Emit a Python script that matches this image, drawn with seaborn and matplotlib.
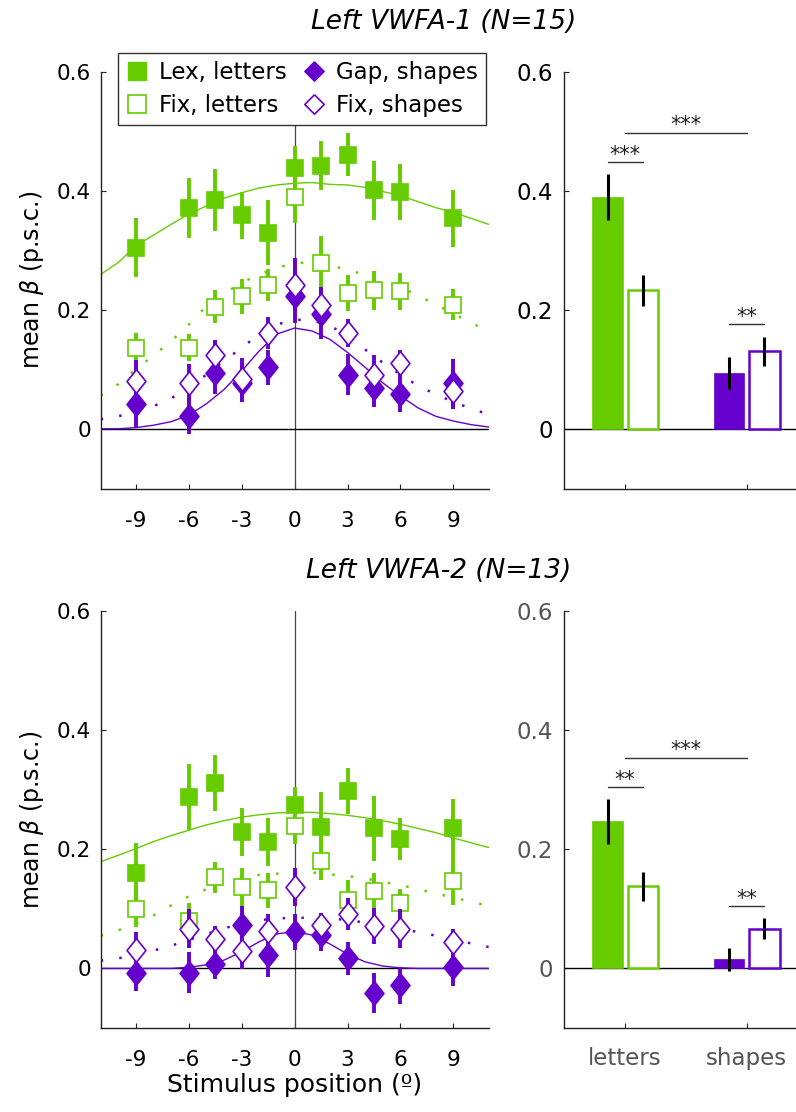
import numpy as np
import pandas as pd
import matplotlib
matplotlib.use('Agg')
import matplotlib.pyplot as plt
from matplotlib.lines import Line2D
import seaborn as sns

sns.set_theme(style='ticks')
plt.rcParams['font.family'] = ['DejaVu Sans']
plt.rcParams['mathtext.fontset'] = 'dejavusans'
plt.rcParams['text.color'] = 'black'
plt.rcParams['axes.labelcolor'] = 'black'

GREEN = '#66CC00'
PURPLE = '#6600CC'

# stimulus positions (deg)
pos = [-9, -6, -4.5, -3, -1.5, 0, 1.5, 3, 4.5, 6, 9]

# ---- Left VWFA-1 (N=15) ----
lex_let_1 = [0.305, 0.371, 0.385, 0.359, 0.330, 0.438, 0.442, 0.461, 0.401, 0.399, 0.354]
lex_let_1_err = [0.050, 0.050, 0.052, 0.040, 0.055, 0.038, 0.041, 0.036, 0.050, 0.047, 0.048]
fix_let_1 = [0.137, 0.137, 0.206, 0.223, 0.242, 0.389, 0.279, 0.229, 0.233, 0.232, 0.209]
fix_let_1_err = [0.025, 0.023, 0.028, 0.029, 0.027, 0.042, 0.045, 0.030, 0.033, 0.031, 0.026]
gap_shp_1 = [0.043, 0.022, 0.095, 0.078, 0.104, 0.224, 0.193, 0.092, 0.070, 0.060, 0.078]
gap_shp_1_err = [0.039, 0.030, 0.035, 0.032, 0.030, 0.045, 0.042, 0.034, 0.033, 0.030, 0.040]
fix_shp_1 = [0.081, 0.077, 0.125, 0.084, 0.162, 0.242, 0.208, 0.162, 0.092, 0.112, 0.064]
fix_shp_1_err = [0.035, 0.033, 0.025, 0.035, 0.027, 0.045, 0.031, 0.024, 0.033, 0.022, 0.030]

# ---- Left VWFA-2 (N=13) ----
lex_let_2 = [0.160, 0.288, 0.312, 0.229, 0.212, 0.274, 0.237, 0.298, 0.235, 0.217, 0.235]
lex_let_2_err = [0.050, 0.055, 0.047, 0.041, 0.040, 0.030, 0.060, 0.039, 0.054, 0.035, 0.050]
fix_let_2 = [0.099, 0.079, 0.153, 0.136, 0.131, 0.239, 0.181, 0.115, 0.130, 0.109, 0.147]
fix_let_2_err = [0.030, 0.030, 0.026, 0.033, 0.029, 0.030, 0.032, 0.034, 0.030, 0.025, 0.040]
gap_shp_2 = [-0.008, -0.007, 0.008, 0.073, 0.022, 0.061, 0.056, 0.017, -0.041, -0.028, 0.002]
gap_shp_2_err = [0.030, 0.035, 0.025, 0.031, 0.036, 0.030, 0.027, 0.028, 0.033, 0.031, 0.032]
fix_shp_2 = [0.031, 0.067, 0.050, 0.030, 0.063, 0.137, 0.073, 0.091, 0.071, 0.067, 0.045]
fix_shp_2_err = [0.030, 0.033, 0.022, 0.031, 0.028, 0.032, 0.020, 0.027, 0.030, 0.032, 0.021]

curve_x = list(range(-11, 12))
fit_lex_1 = [0.260, 0.280, 0.308, 0.326, 0.344, 0.361, 0.375, 0.388, 0.397, 0.405, 0.410, 0.413,
             0.414, 0.411, 0.410, 0.406, 0.399, 0.392, 0.382, 0.372, 0.364, 0.354, 0.344]
fit_fixlet_1 = [0.057, 0.076, 0.101, 0.124, 0.148, 0.176, 0.207, 0.228, 0.246, 0.260, 0.271, 0.279,
                0.280, 0.275, 0.268, 0.259, 0.249, 0.239, 0.224, 0.210, 0.194, 0.179, 0.165]
fit_gap_1 = [0.001, 0.001, 0.003, 0.007, 0.013, 0.024, 0.043, 0.067, 0.098, 0.132, 0.160, 0.170,
             0.165, 0.151, 0.129, 0.104, 0.078, 0.056, 0.036, 0.022, 0.014, 0.008, 0.004]
fit_fixshp_1 = [0.017, 0.022, 0.030, 0.039, 0.052, 0.070, 0.092, 0.115, 0.137, 0.160, 0.176, 0.184,
                0.183, 0.174, 0.157, 0.134, 0.112, 0.092, 0.073, 0.059, 0.046, 0.035, 0.025]
fit_lex_2 = [0.179, 0.190, 0.201, 0.213, 0.223, 0.232, 0.241, 0.248, 0.254, 0.258, 0.261, 0.262,
             0.262, 0.260, 0.257, 0.253, 0.248, 0.242, 0.235, 0.228, 0.219, 0.211, 0.203]
fit_fixlet_2 = [0.055, 0.064, 0.075, 0.089, 0.106, 0.121, 0.133, 0.144, 0.151, 0.157, 0.159, 0.161,
                0.161, 0.158, 0.155, 0.151, 0.145, 0.140, 0.133, 0.126, 0.119, 0.112, 0.105]
fit_gap_2 = [0.0, 0.0, 0.0, 0.0, 0.0, 0.002, 0.006, 0.014, 0.028, 0.045, 0.058, 0.062,
             0.056, 0.041, 0.024, 0.011, 0.004, 0.001, 0.0, 0.0, 0.0, 0.0, 0.0]
fit_fixshp_2 = [0.013, 0.017, 0.022, 0.030, 0.038, 0.048, 0.058, 0.067, 0.076, 0.081, 0.084, 0.085,
                0.085, 0.084, 0.081, 0.077, 0.073, 0.067, 0.061, 0.055, 0.049, 0.042, 0.036]

# bar panels: Lex letters, Fix letters, Gap shapes, Fix shapes
bar_groups = ['letters', 'shapes']
bar_1 = [0.390, 0.233, 0.095, 0.131]
bar_1_err = [0.039, 0.026, 0.027, 0.024]
bar_2 = [0.247, 0.138, 0.015, 0.067]
bar_2_err = [0.038, 0.024, 0.019, 0.017]
# significance: (y of line, label) for letters, between groups, shapes
sig_1 = {'letters': (0.448, '***'), 'between': (0.498, '***'), 'shapes': (0.176, '**')}
sig_2 = {'letters': (0.304, '**'), 'between': (0.354, '***'), 'shapes': (0.105, '**')}

W, H = 796, 1112
fig = plt.figure(figsize=(W / 100, H / 100), dpi=100)

diamond = [(0, 1), (0.8, 0), (0, -1), (-0.8, 0), (0, 1)]
diamond_leg = [(0, 1), (1, 0), (0, -1), (-1, 0), (0, 1)]


def ax_box(left, top, right, bottom):
    return [left / W, 1 - bottom / H, (right - left) / W, (bottom - top) / H]


def style_axis(ax, fs, color='black', pad_y=7, pad_x=16):
    sns.despine(ax=ax)
    for s in ['left', 'bottom']:
        ax.spines[s].set_color('#222')
        ax.spines[s].set_linewidth(1.0)
    ax.tick_params(axis='both', direction='in', length=3.5, width=0.8, colors='#222',
                   labelsize=fs, labelcolor=color)
    ax.tick_params(axis='y', pad=pad_y)
    ax.tick_params(axis='x', pad=pad_x)


def series(ax, vals, err, marker, ms, color, hollow, z):
    ax.errorbar(pos, vals, yerr=err, fmt='none', ecolor=color, elinewidth=2.8,
                capsize=0, zorder=z)
    ax.plot(pos, vals, linestyle='none', marker=marker, ms=ms,
            mfc='white' if hollow else color, mec=color, mew=1.2, zorder=z + 0.5)


def position_panel(ax, d, fits, xlabels):
    ax.axvline(0, color='#444', lw=0.9, zorder=1)
    ax.axhline(0, color='black', lw=1.0, zorder=1)
    dotted = (0, (1.0, 6.5))
    sns.lineplot(x=curve_x, y=fits[0], ax=ax, color=GREEN, lw=1.0, zorder=2)
    sns.lineplot(x=curve_x, y=fits[1], ax=ax, color=GREEN, lw=1.8, linestyle=dotted, zorder=2)
    sns.lineplot(x=curve_x, y=fits[2], ax=ax, color=PURPLE, lw=1.0, zorder=2)
    sns.lineplot(x=curve_x, y=fits[3], ax=ax, color=PURPLE, lw=1.8, linestyle=dotted, zorder=2)
    series(ax, d[0], d[1], 's', 11.5, GREEN, False, 3)
    series(ax, d[2], d[3], 's', 11.5, GREEN, True, 4)
    series(ax, d[4], d[5], diamond, 17, PURPLE, False, 5)
    series(ax, d[6], d[7], diamond, 17, PURPLE, True, 6)
    ax.set_xlim(-11, 11)
    ax.set_ylim(-0.1, 0.6)
    ax.set_xticks([-9, -6, -3, 0, 3, 6, 9])
    ax.set_xticklabels(['-9', '-6', '-3', '0', '3', '6', '9'])
    ax.set_yticks([0, 0.2, 0.4, 0.6])
    ax.set_yticklabels(['0', '0.2', '0.4', '0.6'])
    ax.set_ylabel(r'mean $\beta$ (p.s.c.)', fontsize=17, labelpad=8)
    ax.set_xlabel('')
    style_axis(ax, 15.5)
    if xlabels:
        ax.set_xlabel('Stimulus position (\u00ba)', fontsize=18, labelpad=2)


def bar_panel(ax, vals, err, sig, show_x, label_color):
    off = 0.145
    xs = [1 - off, 1 + off, 2 - off, 2 + off]
    faces = [GREEN, 'white', PURPLE, 'white']
    edges = [GREEN, GREEN, PURPLE, PURPLE]
    lws = [0.5, 1.8, 0.5, 1.8]
    ax.axhline(0, color='black', lw=1.0, zorder=1)
    ax.bar(xs, vals, width=0.25, color=faces, edgecolor=edges, linewidth=lws, zorder=2)
    ax.errorbar(xs, vals, yerr=err, fmt='none', ecolor='black', elinewidth=2.2,
                capsize=0, zorder=3)
    spans = {'letters': (xs[0], xs[1]), 'between': (1, 2), 'shapes': (xs[2], xs[3])}
    for key, (yv, lab) in sig.items():
        x0, x1 = spans[key]
        ax.plot([x0, x1], [yv, yv], color='#333', lw=1.0, zorder=3)
        ax.text((x0 + x1) / 2, yv + 0.002, lab, ha='center', va='baseline',
                fontsize=15, color='#222')
    ax.set_xlim(0.5, 2.5)
    ax.set_ylim(-0.1, 0.6)
    ax.set_xticks([1, 2])
    ax.set_xticklabels(bar_groups if show_x else ['', ''])
    ax.set_yticks([0, 0.2, 0.4, 0.6])
    ax.set_yticklabels(['0', '0.2', '0.4', '0.6'])
    style_axis(ax, 16.5, color=label_color, pad_y=8, pad_x=14)


ax_tl = fig.add_axes(ax_box(100.7, 71.7, 488.6, 489))
ax_tr = fig.add_axes(ax_box(564.3, 71.7, 807.7, 489))
ax_bl = fig.add_axes(ax_box(100.7, 611, 488.6, 1028))
ax_br = fig.add_axes(ax_box(564.3, 611, 807.7, 1028))

position_panel(ax_tl, [lex_let_1, lex_let_1_err, fix_let_1, fix_let_1_err,
                       gap_shp_1, gap_shp_1_err, fix_shp_1, fix_shp_1_err],
               [fit_lex_1, fit_fixlet_1, fit_gap_1, fit_fixshp_1], False)
position_panel(ax_bl, [lex_let_2, lex_let_2_err, fix_let_2, fix_let_2_err,
                       gap_shp_2, gap_shp_2_err, fix_shp_2, fix_shp_2_err],
               [fit_lex_2, fit_fixlet_2, fit_gap_2, fit_fixshp_2], True)
bar_panel(ax_tr, bar_1, bar_1_err, sig_1, False, 'black')
bar_panel(ax_br, bar_2, bar_2_err, sig_2, True, '#555555')

handles = [
    Line2D([], [], ls='none', marker='s', ms=12.5, mfc=GREEN, mec=GREEN),
    Line2D([], [], ls='none', marker='s', ms=12.5, mfc='white', mec=GREEN, mew=1.2),
    Line2D([], [], ls='none', marker=diamond_leg, ms=14, mfc=PURPLE, mec=PURPLE),
    Line2D([], [], ls='none', marker=diamond_leg, ms=14, mfc='white', mec=PURPLE, mew=1.2),
]
labels = ['Lex, letters', 'Fix, letters', 'Gap, shapes', 'Fix, shapes']
leg = ax_tl.legend(handles, labels, ncol=2, loc='upper left',
                   bbox_to_anchor=(118 / W, 1 - 53 / H), bbox_transform=fig.transFigure,
                   fontsize=16.5, frameon=True, fancybox=False, edgecolor='#333',
                   framealpha=1, borderpad=0.35, handlelength=1.0, handletextpad=0.45,
                   columnspacing=0.7, labelspacing=0.45, borderaxespad=0)
leg.get_frame().set_linewidth(1.0)
leg.set_zorder(20)

fig.text(444 / W, 1 - 22 / H, 'Left VWFA-1 (N=15)', ha='center', va='center',
         style='italic', fontsize=19)
fig.text(439 / W, 1 - 571 / H, 'Left VWFA-2 (N=13)', ha='center', va='center',
         style='italic', fontsize=19)

fig.savefig('out.png', dpi=100)
